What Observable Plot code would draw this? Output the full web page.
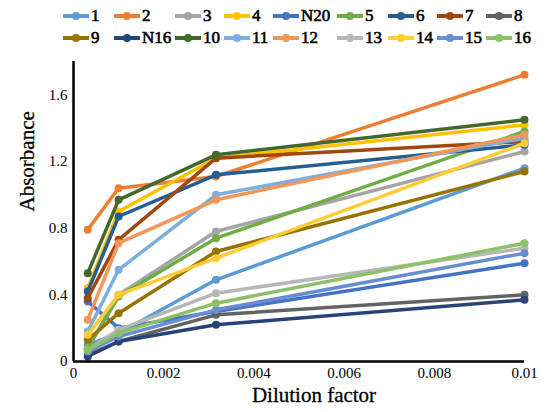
<!DOCTYPE html>
<html><head><meta charset="utf-8">
<script src="https://cdn.jsdelivr.net/npm/d3@7"></script>
<script src="https://cdn.jsdelivr.net/npm/@observablehq/plot@0.6"></script>
<style>
body{margin:0;background:#fff;font-family:"Liberation Serif","Times New Roman",serif;}
#legend{position:relative;width:545px;height:48px;}
.item{position:absolute;display:flex;align-items:center;font-weight:normal;font-size:17px;color:#000;line-height:1;font-family:"Liberation Serif",serif;-webkit-text-stroke:0.6px #000;}
.item svg{margin-right:2px;}
</style></head><body>
<div id="legend"></div>
<div id="chart"></div>
<script>
// Data
const dilution = [0.000316, 0.001, 0.00316, 0.01];
const s1   = [0.10, 0.17, 0.49, 1.16];
const s2   = [0.79, 1.04, 1.11, 1.72];
const s3   = [0.08, 0.40, 0.78, 1.26];
const s4   = [0.44, 0.90, 1.22, 1.42];
const sN20 = [0.36, 0.20, 0.30, 0.59];
const s5   = [0.08, 0.39, 0.74, 1.38];
const s6   = [0.42, 0.87, 1.12, 1.30];
const s7   = [0.38, 0.73, 1.22, 1.32];
const s8   = [0.04, 0.12, 0.28, 0.40];
const s9   = [0.13, 0.29, 0.66, 1.14];
const sN16 = [0.03, 0.12, 0.22, 0.37];
const s10  = [0.53, 0.97, 1.24, 1.45];
const s11  = [0.18, 0.55, 1.00, 1.34];
const s12  = [0.25, 0.71, 0.97, 1.36];
const s13  = [0.07, 0.19, 0.41, 0.68];
const s14  = [0.16, 0.40, 0.62, 1.31];
const s15  = [0.06, 0.15, 0.31, 0.65];
const s16  = [0.07, 0.17, 0.35, 0.71];
const seriesNames  = ["1","2","3","4","N20","5","6","7","8","9","N16","10","11","12","13","14","15","16"];
const seriesValues = [s1,s2,s3,s4,sN20,s5,s6,s7,s8,s9,sN16,s10,s11,s12,s13,s14,s15,s16];
const seriesColors = ["#5B9BD5","#ED7D31","#A5A5A5","#FFC000","#4472C4","#70AD47","#255E91","#9E480E","#636363",
                      "#997300","#264478","#43682B","#7CAFDD","#F1975A","#B7B7B7","#FFCD33","#698ED0","#8CC168"];
const xTicks = [0, 0.002, 0.004, 0.006, 0.008, 0.01];
const yTicks = [0, 0.4, 0.8, 1.2, 1.6];

// Legend (HTML)
const colX = [63,114,175,224,273,337,388,437,486];
const legend = document.getElementById("legend");
seriesNames.forEach((n,i)=>{
  const row = Math.floor(i/9), col = i%9;
  const d = document.createElement("div");
  d.className = "item";
  d.style.left = colX[col]+"px";
  d.style.top = (row===0?7:29)+"px";
  d.innerHTML = `<svg width="26" height="16"><line x1="0" y1="8" x2="26" y2="8" stroke="${seriesColors[i]}" stroke-width="4"/><circle cx="13" cy="8" r="4" fill="${seriesColors[i]}"/></svg><span>${n}</span>`;
  legend.appendChild(d);
});

const rows = seriesNames.flatMap((n,i)=>dilution.map((x,j)=>({name:n, x, y:seriesValues[i][j]})));

const marks = [];
seriesNames.forEach((n,i)=>{
  const data = rows.filter(r=>r.name===n);
  marks.push(Plot.line(data,{x:"x",y:"y",stroke:seriesColors[i],strokeWidth:3.5}));
  marks.push(Plot.dot(data,{x:"x",y:"y",fill:seriesColors[i],r:4}));
});

const chart = Plot.plot({
  width:545, height:364,
  marginLeft:73, marginRight:21, marginTop:13, marginBottom:51,
  style:{fontFamily:"Liberation Serif, serif",background:"#fff"},
  x:{domain:[0,0.01], axis:null},
  y:{domain:[0,1.8], axis:null},
  marks:[
    Plot.axisX(xTicks,{tickSize:0,tickPadding:6,fontSize:15,stroke:"#000",strokeWidth:0.6,fill:"#000",tickFormat:d=>String(d),label:null}),
    Plot.axisY(yTicks,{tickSize:0,tickPadding:6,fontSize:15,stroke:"#000",strokeWidth:0.6,fill:"#000",tickFormat:d=>String(d),label:null}),
    ...marks,
    Plot.ruleY([0],{stroke:"#000",strokeWidth:2.5}),
    Plot.ruleX([0],{stroke:"#000",strokeWidth:2.5}),
    Plot.text(["Dilution factor"],{frameAnchor:"bottom",dy:40,dx:15,fontSize:21,fill:"#000",stroke:"#000",strokeWidth:0.3}),
    Plot.text(["Absorbance"],{frameAnchor:"left",dx:-46,rotate:-90,fontSize:21,fill:"#000",stroke:"#000",strokeWidth:0.3})
  ]
});
document.getElementById("chart").appendChild(chart);
</script>
</body></html>
